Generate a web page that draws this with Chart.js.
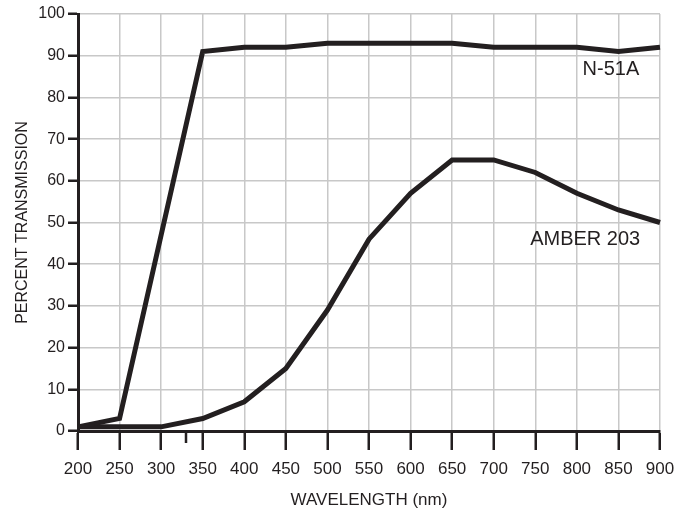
<!DOCTYPE html>
<html>
<head>
<meta charset="utf-8">
<script src="https://cdn.jsdelivr.net/npm/chart.js@4.4.1/dist/chart.umd.min.js"></script>
<style>
  html, body { margin: 0; padding: 0; background: #fff; }
  #chart { display: block; }
</style>
</head>
<body>
<canvas id="chart" width="693" height="513"></canvas>
<script>
// wavelength (nm)
const wavelengths = [200, 250, 300, 350, 400, 450, 500, 550, 600, 650, 700, 750, 800, 850, 900];
// percent transmission
const n51a = [1, 3, 47, 91, 92, 92, 93, 93, 93, 93, 92, 92, 92, 91, 92];
const amber203 = [1, 1, 1, 3, 7, 15, 29, 46, 57, 65, 65, 62, 57, 53, 50];
const minorTicks = [330];

const INK = '#231f20';
const GRID = '#c8c8c8';
const FONT = '"Liberation Sans", Arial, Helvetica, sans-serif';

function toPoints(values) {
    return wavelengths.map((w, i) => ({ x: w, y: values[i] }));
}

// short extra tick under the x axis + curve names
const extrasPlugin = {
    id: 'extras',
    afterDraw(chart, args, opts) {
        const ctx = chart.ctx;
        const x = chart.scales.x;
        const y = chart.scales.y;
        const bottom = chart.chartArea.bottom;
        ctx.save();
        ctx.strokeStyle = INK;
        ctx.lineWidth = 2.5;
        minorTicks.forEach(v => {
            const px = Math.round(x.getPixelForValue(v));
            ctx.beginPath();
            ctx.moveTo(px, bottom);
            ctx.lineTo(px, bottom + 12);
            ctx.stroke();
        });
        ctx.fillStyle = INK;
        ctx.font = '20px ' + FONT;
        ctx.textAlign = 'center';
        ctx.textBaseline = 'middle';
        opts.labels.forEach(l => {
            ctx.fillText(l.text, x.getPixelForValue(l.x), y.getPixelForValue(l.y));
        });
        ctx.restore();
    }
};

new Chart(document.getElementById('chart'), {
    type: 'line',
    data: {
        datasets: [{
            label: 'N-51A',
            data: toPoints(n51a),
            borderColor: INK,
            borderWidth: 5,
            pointRadius: 0,
            tension: 0,
            borderJoinStyle: 'miter',
            clip: false
        }, {
            label: 'AMBER 203',
            data: toPoints(amber203),
            borderColor: INK,
            borderWidth: 5,
            pointRadius: 0,
            tension: 0,
            borderJoinStyle: 'miter',
            clip: false
        }]
    },
    options: {
        responsive: false,
        animation: false,
        devicePixelRatio: 1,
        layout: { padding: { top: 14, right: 33, bottom: 0, left: 0 } },
        scales: {
            x: {
                type: 'linear',
                min: 200,
                max: 900,
                afterFit(scale) { scale.height = 82; },
                ticks: {
                    stepSize: 50,
                    color: INK,
                    padding: 9,
                    maxRotation: 0,
                    font: { family: FONT, size: 17 }
                },
                grid: {
                    color: GRID,
                    lineWidth: 1.5,
                    tickColor: INK,
                    tickLength: 19,
                    tickWidth: 2.5
                },
                border: { color: INK, width: 3 },
                title: {
                    display: true,
                    text: 'WAVELENGTH (nm)',
                    color: INK,
                    font: { family: FONT, size: 17 },
                    padding: { top: 0, bottom: 2 }
                }
            },
            y: {
                min: 0,
                max: 100,
                afterFit(scale) { scale.width = 78; },
                ticks: {
                    stepSize: 10,
                    color: INK,
                    padding: 3,
                    font: { family: FONT, size: 16 }
                },
                grid: {
                    color: GRID,
                    lineWidth: 1.5,
                    tickColor: INK,
                    tickLength: 10,
                    tickWidth: 2.5
                },
                border: { color: INK, width: 3 },
                title: {
                    display: true,
                    text: 'PERCENT TRANSMISSION',
                    color: INK,
                    font: { family: FONT, size: 16 },
                    padding: { top: 13, bottom: 0 }
                }
            }
        },
        plugins: {
            legend: { display: false },
            tooltip: { enabled: false },
            extras: {
                labels: [
                    { text: 'N-51A', x: 841, y: 86.8 },
                    { text: 'AMBER 203', x: 810, y: 46 }
                ]
            }
        }
    },
    plugins: [extrasPlugin]
});
</script>
</body>
</html>
